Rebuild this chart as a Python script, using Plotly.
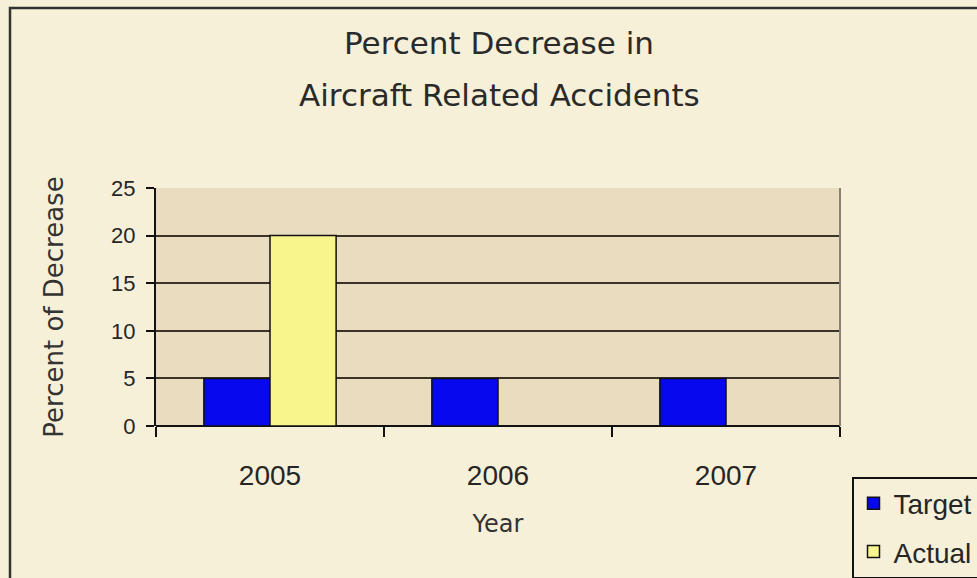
import plotly.graph_objects as go

years = ["2005", "2006", "2007"]
target = [5, 5, 5]
actual = [20, 0, 0]
y_ticks = [0, 5, 10, 15, 20, 25]
title_lines = ["Percent Decrease in", "Aircraft Related Accidents"]

W, H = 977, 578
L, R, T, B = 156, 840, 188, 426
pw, ph = R - L, B - T

def px_x(x):
    return (x - L) / pw

def px_y(y):
    return (B - y) / ph

ARIAL = "Liberation Sans, Arial, sans-serif"
WIDE = "DejaVu Sans, Verdana, sans-serif"
TXT = "#262626"

fig = go.Figure()
fig.add_trace(go.Bar(name="Target", x=years, y=target, legendgroup="target",
                     marker=dict(color="#0808ee", line=dict(color="#111111", width=1.5))))
fig.add_trace(go.Bar(name="Actual", x=years, y=actual, legendgroup="actual",
                     marker=dict(color="#f7f58c", line=dict(color="#111111", width=1.5))))

fig.update_layout(
    width=W, height=H,
    margin=dict(l=L, r=W - R, t=T, b=H - B, autoexpand=False),
    paper_bgcolor="#f7f0d8",
    plot_bgcolor="#eadcbf",
    barmode="group",
    bargap=0.42,
    bargroupgap=0,
    font=dict(family=ARIAL, color=TXT),
    legend=dict(x=px_x(852), y=px_y(477), xanchor="left", yanchor="top",
                bgcolor="#f7f0d8", bordercolor="#111111", borderwidth=1.5,
                font=dict(size=28, family=ARIAL, color=TXT),
                itemwidth=30, tracegroupgap=9),
    showlegend=True,
)

# two-line chart title (line spacing wider than plotly's default <br>)
for text, yc in zip(title_lines, [43, 95]):
    fig.add_annotation(text=text, xref="paper", yref="paper",
                       x=px_x(499), y=px_y(yc), xanchor="center", yanchor="middle",
                       showarrow=False, font=dict(size=31, family=WIDE, color="#2a2a2a"))

fig.update_xaxes(
    type="category",
    showgrid=False,
    showline=False,
    ticks="outside", tickson="boundaries", ticklen=10, tickwidth=1.5, tickcolor="#111111",
    tickfont=dict(size=28, family=ARIAL, color=TXT),
    ticklabelstandoff=30,
    title=dict(text="Year", font=dict(size=24, family=WIDE, color="#333333"), standoff=25),
    fixedrange=True,
)
fig.update_yaxes(
    range=[0, 25],
    tickvals=y_ticks,
    showgrid=True, gridcolor="#3b3327", gridwidth=2,
    zeroline=True, zerolinecolor="#111111", zerolinewidth=2,
    showline=True, linecolor="#111111", linewidth=2,
    ticks="outside", ticklen=8, tickwidth=1.5, tickcolor="#111111",
    tickfont=dict(size=22, family=ARIAL, color=TXT),
    ticklabelstandoff=6,
    title=dict(text="Percent of Decrease", font=dict(size=26, family=WIDE, color="#333333"), standoff=40),
    fixedrange=True,
)

# right border of plot area
fig.add_shape(type="line", xref="paper", yref="paper", x0=1, x1=1, y0=0, y1=1,
              line=dict(color="#8a8072", width=2), layer="above")
# outer chart frame
fig.add_shape(type="rect", xref="paper", yref="paper",
              x0=px_x(10), x1=px_x(W + 20), y0=px_y(H + 20), y1=px_y(8),
              line=dict(color="#333333", width=2.5), fillcolor="rgba(0,0,0,0)", layer="below")

fig.write_html("out.html", config={"displayModeBar": False},
               post_script="document.body.style.margin='0';")
